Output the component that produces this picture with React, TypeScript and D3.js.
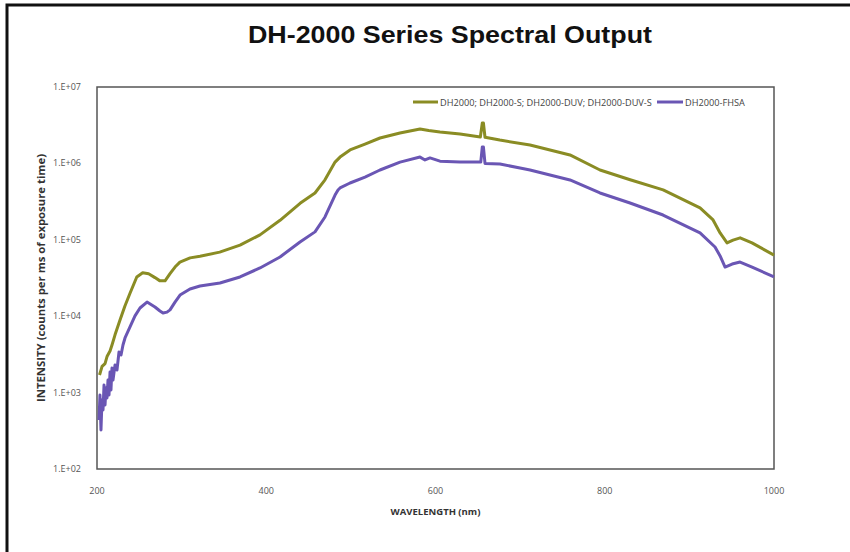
import React from "react";
import * as d3 from "d3";

const TITLE = "DH-2000 Series Spectral Output";
const X_TITLE = "WAVELENGTH (nm)";
const Y_TITLE = "INTENSITY (counts per ms of exposure time)";
const SERIES_NAMES = ["DH2000; DH2000-S; DH2000-DUV; DH2000-DUV-S", "DH2000-FHSA"];

const xTicks = [200, 400, 600, 800, 1000];
const yTicks = [1e2, 1e3, 1e4, 1e5, 1e6, 1e7];
const yTickLabels = ["1.E+02", "1.E+03", "1.E+04", "1.E+05", "1.E+06", "1.E+07"];

// DH2000 (olive)
const oliveWl = [
  203, 206, 209.5, 212, 215.4, 218, 221.3, 227.2, 233, 239, 247, 254, 261, 268.5, 274.4, 280.4, 286.3, 292.2, 298, 310,
  321.7, 345, 369, 392.6, 416.3, 440, 457.6, 469.4, 481.3, 487.2, 499, 516.7, 534.4, 558, 581.7, 592, 605.3, 629, 653,
  655.3, 656.6, 658.5, 676, 711.7, 758.9, 794.4, 830, 869, 912.6, 928, 936.3, 944.5, 951.6, 960, 974, 1000,
];
const oliveVal = [
  1.7e3, 2.2e3, 2.4e3, 3.0e3, 3.5e3, 4.3e3, 5.7e3, 8.9e3, 1.36e4, 2.0e4, 3.26e4, 3.7e4, 3.6e4, 3.2e4, 2.9e4, 2.9e4, 3.6e4,
  4.4e4, 5.1e4, 5.8e4, 6.1e4, 6.9e4, 8.5e4, 1.16e5, 1.8e5, 3.0e5, 4.1e5, 6.1e5, 1.04e6, 1.21e6, 1.5e6, 1.79e6, 2.15e6,
  2.5e6, 2.82e6, 2.7e6, 2.58e6, 2.43e6, 2.22e6, 3.38e6, 3.38e6, 2.2e6, 2.02e6, 1.74e6, 1.29e6, 8.2e5, 6.1e5, 4.5e5,
  2.61e5, 1.82e5, 1.23e5, 9.1e4, 9.9e4, 1.06e5, 9.1e4, 6.3e4,
];

// DH2000-FHSA (purple)
const purpleWl = [
  202.4, 203.5, 204.7, 205.9, 207.1, 208.3, 209.5, 210.6, 211.8, 213, 214.2, 215.4, 216.5, 217.7, 218.9, 221.3, 223.6,
  226, 228.4, 230.7, 233.1, 239, 244.9, 250.8, 259.1, 268.5, 274.4, 278, 282.7, 286.3, 292.2, 298.1, 309.9, 321.7,
  345.3, 369, 392.6, 416.3, 439.9, 457.6, 469.4, 481.3, 484.8, 487.2, 499, 516.7, 534.4, 558.1, 581.7, 587.6, 593.5,
  605.3, 629, 653.5, 655.3, 656.6, 658.5, 676.2, 699.9, 711.7, 758.9, 794.4, 829.9, 868.9, 912.6, 930.3, 936.3, 942.2,
  950.5, 959.9, 974.1, 1000,
];
const purpleVal = [
  438, 931, 324, 800, 592, 1257, 688, 1148, 849, 1462, 931, 1862, 1081, 2100, 1462, 2297, 1977, 3396, 3105, 4198, 5188,
  7228, 1.01e4, 1.28e4, 1.53e4, 1.32e4, 1.17e4, 1.1e4, 1.13e4, 1.21e4, 1.53e4, 1.89e4, 2.27e4, 2.48e4, 2.72e4, 3.26e4,
  4.28e4, 5.96e4, 9.36e4, 1.27e5, 1.99e5, 3.85e5, 4.49e5, 4.77e5, 5.54e5, 6.63e5, 8.2e5, 1.04e6, 1.21e6, 1.11e6, 1.18e6,
  1.07e6, 1.04e6, 1.04e6, 1.64e6, 1.64e6, 1.0e6, 9.8e5, 8.7e5, 8.2e5, 6.07e5, 4.1e5, 3.03e5, 2.11e5, 1.23e5, 8.05e4,
  6.14e4, 4.4e4, 4.82e4, 5.12e4, 4.4e4, 3.26e4,
];

const OLIVE = "#8a8c24";
const PURPLE = "#6a56b4";

export default function App() {
  const W = 850, H = 552;
  const left = 97, right = 774, top = 87, bottom = 469;
  const x = d3.scaleLinear().domain([200, 1000]).range([left, right]);
  const y = d3.scaleLog().domain([1e2, 1e7]).range([bottom, top]);
  const line = d3
    .line<[number, number]>()
    .x((d) => x(d[0]))
    .y((d) => y(d[1]));
  const olivePts = oliveWl.map((w, i) => [w, oliveVal[i]] as [number, number]);
  const purplePts = purpleWl.map((w, i) => [w, purpleVal[i]] as [number, number]);
  const font = "'Open Sans', 'Noto Sans', sans-serif";

  return (
    <svg width={W} height={H} style={{ position: "absolute", left: 0, top: 0, background: "#fff" }}>
      <rect x={0} y={0} width={W} height={H} fill="#fff" />
      {/* outer frame */}
      <path d={`M7,${H} L7,5 L${W},5`} fill="none" stroke="#111" strokeWidth={3} />
      <text
        x={450}
        y={43}
        textAnchor="middle"
        fontFamily="'Liberation Sans', Arial, sans-serif"
        fontWeight="bold"
        fontSize={24}
        textLength={404}
        lengthAdjust="spacingAndGlyphs"
        fill="#111"
      >
        {TITLE}
      </text>
      {/* plot frame */}
      <rect x={left} y={top} width={right - left} height={bottom - top} fill="none" stroke="#555" strokeWidth={1.5} />
      {/* y ticks */}
      {yTicks.map((t, i) => (
        <text key={t} x={81} y={y(t) + 3} textAnchor="end" fontFamily={font} fontSize={9} fill="#555">
          {yTickLabels[i]}
        </text>
      ))}
      {xTicks.map((t) => (
        <text key={t} x={x(t)} y={494} textAnchor="middle" fontFamily={font} fontSize={9} fill="#555">
          {t}
        </text>
      ))}
      <text x={(left + right) / 2} y={515} textAnchor="middle" fontFamily={font} fontWeight="bold" fontSize={9.5} fill="#333">
        {X_TITLE}
      </text>
      <text
        transform={`translate(45,${(top + bottom) / 2}) rotate(-90)`}
        textAnchor="middle"
        fontFamily={font}
        fontWeight="bold"
        fontSize={10}
        textLength={248}
        lengthAdjust="spacingAndGlyphs"
        fill="#333"
      >
        {Y_TITLE}
      </text>
      {/* series */}
      <path d={line(olivePts) || ""} fill="none" stroke={OLIVE} strokeWidth={3} strokeLinejoin="round" />
      <path d={line(purplePts) || ""} fill="none" stroke={PURPLE} strokeWidth={3} strokeLinejoin="round" />
      {/* legend */}
      <line x1={413} x2={438} y1={102} y2={102} stroke={OLIVE} strokeWidth={3} />
      <text x={440} y={105.5} fontFamily={font} fontSize={9.2} fill="#444">
        {SERIES_NAMES[0]}
      </text>
      <line x1={657} x2={683} y1={102} y2={102} stroke={PURPLE} strokeWidth={3} />
      <text x={685} y={105.5} fontFamily={font} fontSize={9.2} fill="#444">
        {SERIES_NAMES[1]}
      </text>
    </svg>
  );
}
